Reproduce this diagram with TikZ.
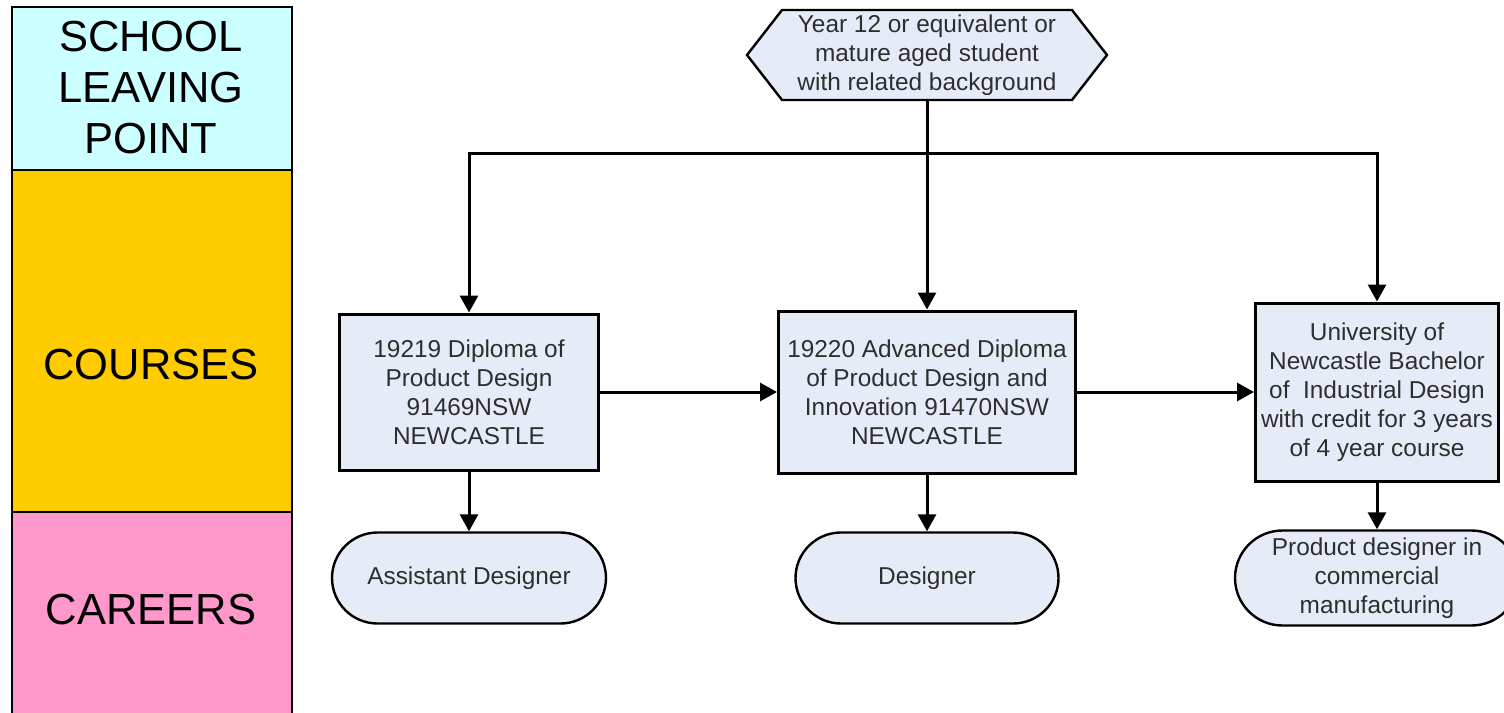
\documentclass[tikz,border=0pt]{standalone}
\usepackage{fontspec}
\setmainfont{Liberation Sans}
\usetikzlibrary{arrows.meta,shapes.misc}
\definecolor{boxfill}{HTML}{E6ECF7}
\definecolor{txtgrey}{HTML}{2E2E2E}
\definecolor{bandcyan}{HTML}{CCFFFF}
\definecolor{bandorange}{HTML}{FFCC00}
\definecolor{bandpink}{HTML}{FF99CC}
\begin{document}
\begin{tikzpicture}[x=1pt,y=-1pt,
  boxtext/.style={font=\fontsize{24.4}{29}\selectfont, text=txtgrey, align=center},
  course/.style={boxtext, draw, fill=boxfill, line width=3pt, inner sep=0pt},
  career/.style={boxtext, draw, fill=boxfill, line width=2.4pt, rounded rectangle, inner sep=0pt},
  band/.style={draw, line width=2.2pt},
  bandlabel/.style={font=\fontsize{43.5}{51}\selectfont, align=center},
  conn/.style={line width=3pt, -{Triangle[length=17pt,width=18pt]}}]
\useasboundingbox (0,0) rectangle (1504,712);
\clip (0,0) rectangle (1504,712);
% left bands
\draw[band, fill=bandcyan] (12,7) rectangle (292,170);
\draw[band, fill=bandorange] (12,170) rectangle (292,512);
\draw[band, fill=bandpink] (12,512) rectangle (292,730);
\node[bandlabel] (lp) at (151,88) {SCHOOL\\LEAVING\\POINT};
\node[bandlabel] (lc) at (151,365) {COURSES};
\node[bandlabel] (lcar) at (151,610) {CAREERS};
% start hexagon
\draw[line width=2.4pt, fill=boxfill] (747,55) -- (782,10) -- (1072,10) -- (1107,55) -- (1072,100) -- (782,100) -- cycle;
\node[boxtext, minimum width=290pt, minimum height=90pt, inner sep=0pt] (start) at (927,55) {Year 12 or equivalent or\\mature aged student\\with related background};
% courses
\node[course, minimum width=259pt, minimum height=156pt] (c1) at (469,392) {19219 Diploma of\\Product Design\\91469NSW\\NEWCASTLE};
\node[course, minimum width=297pt, minimum height=162pt] (c2) at (927,392) {19220 Advanced Diploma\\of Product Design and\\Innovation 91470NSW\\NEWCASTLE};
\node[course, minimum width=243pt, minimum height=178pt] (c3) at (1377,392) {University of\\Newcastle Bachelor\\of~ Industrial Design\\with credit for 3 years\\of 4 year course};
% careers
\node[career, minimum width=274pt, minimum height=91pt] (k1) at (469,578) {Assistant Designer};
\node[career, minimum width=263pt, minimum height=91pt] (k2) at (927,578) {Designer};
\node[career, minimum width=284pt, minimum height=95pt] (k3) at (1377,578) {Product designer in\\commercial\\manufacturing};
% connectors
\coordinate (split) at (927,153);
\draw[conn] (start.south) -- (c2.north);
\draw[conn] (split) -| (c1.north);
\draw[conn] (split) -| (c3.north);
\draw[conn] (c1.east) -- (c2.west);
\draw[conn] (c2.east) -- (c3.west);
\draw[conn] (c1.south) -- (k1.north);
\draw[conn] (c2.south) -- (k2.north);
\draw[conn] (c3.south) -- (k3.north);
\end{tikzpicture}
\end{document}
